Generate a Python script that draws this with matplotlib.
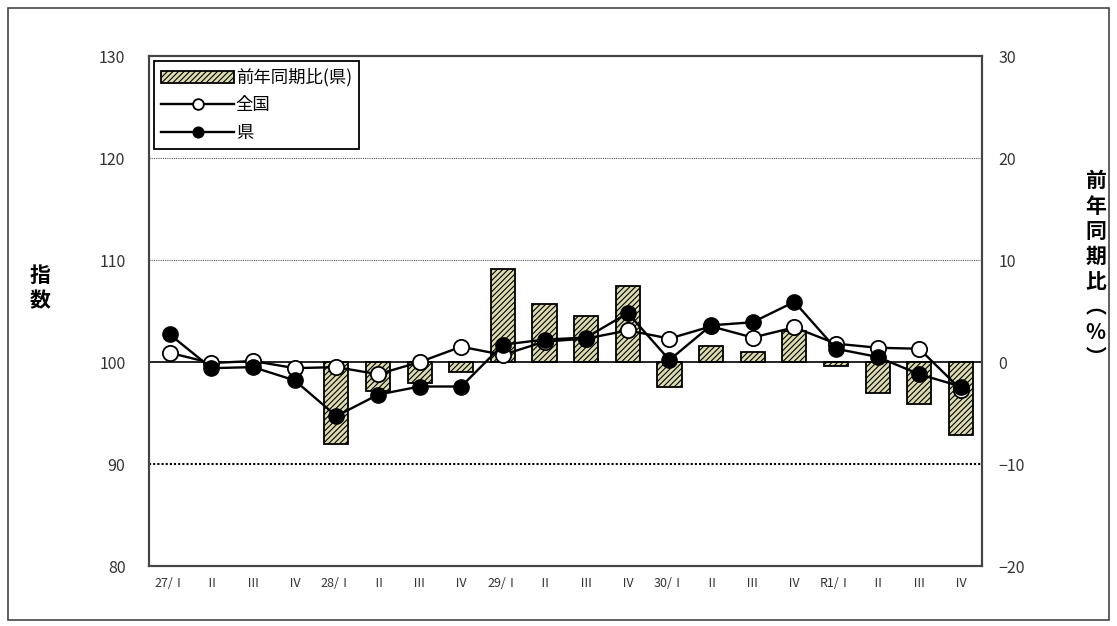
import numpy as np
import matplotlib.pyplot as plt
from matplotlib.patches import Rectangle

plt.rcParams['font.family'] = ['Noto Sans CJK JP', 'DejaVu Sans']
plt.rcParams['hatch.linewidth'] = 0.8

# データ
quarters = ['27/Ⅰ', 'Ⅱ', 'Ⅲ', 'Ⅳ', '28/Ⅰ', 'Ⅱ', 'Ⅲ', 'Ⅳ', '29/Ⅰ', 'Ⅱ', 'Ⅲ', 'Ⅳ',
            '30/Ⅰ', 'Ⅱ', 'Ⅲ', 'Ⅳ', 'R1/Ⅰ', 'Ⅱ', 'Ⅲ', 'Ⅳ']
ken = [102.7, 99.4, 99.5, 98.2, 94.7, 96.8, 97.6, 97.6, 101.7, 102.2, 102.4, 104.8,
       100.2, 103.6, 103.9, 105.9, 101.3, 100.5, 98.8, 97.6]
zenkoku = [100.9, 99.9, 100.1, 99.4, 99.5, 98.8, 100.0, 101.5, 100.7, 102.0, 102.3, 103.1,
           102.3, 103.5, 102.4, 103.4, 101.8, 101.4, 101.3, 97.3]
yoy_ken = [np.nan, np.nan, np.nan, np.nan, -8.0, -2.8, -2.1, -1.0, 9.1, 5.7, 4.5, 7.5,
           -2.4, 1.6, 0.95, 3.0, -0.4, -3.0, -4.1, -7.2]

x = np.arange(len(quarters))

fig = plt.figure(figsize=(11.17, 6.26), dpi=100)
ax1 = fig.add_axes([0.1334, 0.0958, 0.7455, 0.8147])   # 前年同期比 (棒)
ax2 = ax1.twinx()                                       # 指数 (折れ線)

# 棒グラフ
bars = ax1.bar(x, yoy_ken, width=0.58, color='#dcdcb0', edgecolor='black',
               linewidth=1.3, hatch='//////', label='前年同期比(県)', zorder=2)
ax1.set_ylim(-20, 30)
ax1.set_yticks([30, 20, 10, 0, -10, -20])
ax1.set_yticklabels(['30', '20', '10', '0', '−10', '−20'])
ax1.yaxis.tick_right()
ax1.axhline(20, color='#555555', lw=0.8, ls=(0, (1, 1)), zorder=1)
ax1.axhline(10, color='#555555', lw=0.8, ls=(0, (1, 1)), zorder=1)
ax1.axhline(-10, color='black', lw=1.5, ls=(0, (1, 1)), zorder=1)
ax1.axhline(0, color='black', lw=1.2, zorder=3)

# 折れ線
l1, = ax2.plot(x, zenkoku, color='black', lw=1.7, marker='o', ms=11,
               mfc='white', mec='black', mew=1.3, label='全国', zorder=3)
l2, = ax2.plot(x, ken, color='black', lw=1.7, marker='o', ms=11,
               mfc='black', mec='black', label='県', zorder=4)
ax2.set_ylim(80, 130)
ax2.set_yticks([130, 120, 110, 100, 90, 80])
ax2.yaxis.tick_left()

ax1.set_xlim(-0.5, len(quarters) - 0.5)
ax1.set_xticks(x)
ax1.set_xticklabels(quarters)

for ax in (ax1, ax2):
    ax.tick_params(length=0, labelsize=11.5, colors='#333333')
    for s in ax.spines.values():
        s.set_color('#444444')
        s.set_linewidth(1.5)
ax1.tick_params(axis='y', pad=12)
ax2.tick_params(axis='y', pad=17)
ax1.tick_params(axis='x', pad=8, labelsize=9)

# 軸ラベル
fig.text(0.036, 0.54, '指\n数', fontsize=15, fontweight='bold', ha='center', va='center',
         linespacing=1.25)
fig.text(0.981, 0.57, '前\n年\n同\n期\n比\n︵\n%\n︶', fontsize=15, fontweight='bold',
         ha='center', va='center', linespacing=1.25)

leg = ax2.legend(handles=[bars, l1, l2], loc='upper left', fontsize=12.5,
                 frameon=True, fancybox=False, edgecolor='black', framealpha=1,
                 borderaxespad=0.3, handlelength=4.2, handletextpad=0.1,
                 labelspacing=0.55, markerscale=0.7, borderpad=0.4)
leg.get_frame().set_linewidth(1.3)

# 外枠
fig.patches.append(Rectangle((0.007, 0.01), 0.986, 0.978, transform=fig.transFigure,
                             fill=False, edgecolor='#444444', lw=1.2))

fig.savefig('out.png', dpi=100)
